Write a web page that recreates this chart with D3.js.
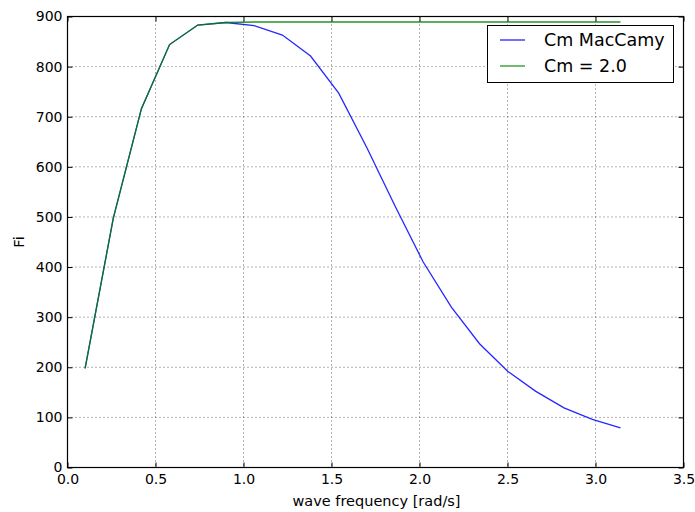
<!DOCTYPE html>
<html>
<head>
<meta charset="utf-8">
<script src="https://cdn.jsdelivr.net/npm/d3@7"></script>
<style>
  html, body { margin: 0; padding: 0; background: #fff; }
  svg { display: block; font-family: "DejaVu Sans", sans-serif; }
</style>
</head>
<body>
<svg id="chart" width="695" height="512"></svg>
<script>
// Wave frequencies (rad/s)
const omega = [0.100, 0.260, 0.420, 0.580, 0.740, 0.900, 1.060, 1.221, 1.381, 1.541,
               1.701, 1.861, 2.021, 2.181, 2.341, 2.501, 2.661, 2.821, 2.982, 3.142];
// Inertia force with MacCamy-Fuchs coefficient
const fiMacCamy = [198, 497, 716, 844, 883, 888, 882, 863, 821, 747,
                   638, 522, 410, 320, 247, 192, 152, 119, 96, 79];
// Inertia force with constant Cm = 2.0
const fiCm2 = [198, 497, 716, 844, 883, 888, 889, 889, 889, 889,
               889, 889, 889, 889, 889, 889, 889, 889, 889, 889];
const xTicks = [0.0, 0.5, 1.0, 1.5, 2.0, 2.5, 3.0, 3.5];
const yTicks = [0, 100, 200, 300, 400, 500, 600, 700, 800, 900];
const seriesNames = ["Cm MacCamy", "Cm = 2.0"];
const seriesColors = ["#0000ff", "#008000"];

const svg = d3.select("#chart");
const m = { left: 67.5, top: 16.5, right: 683.5, bottom: 467.5 };

const x = d3.scaleLinear().domain([0, 3.5]).range([m.left, m.right]);
const y = d3.scaleLinear().domain([0, 900]).range([m.bottom, m.top]);

// Grid lines
const grid = svg.append("g");
grid.selectAll(".gx").data(xTicks.slice(1, -1)).join("line")
  .attr("x1", d => x(d)).attr("x2", d => x(d))
  .attr("y1", m.top).attr("y2", m.bottom)
  .attr("stroke", "#000").attr("stroke-width", 0.6).attr("stroke-dasharray", "1,3");
grid.selectAll(".gy").data(yTicks.slice(1, -1)).join("line")
  .attr("y1", d => y(d)).attr("y2", d => y(d))
  .attr("x1", m.left).attr("x2", m.right)
  .attr("stroke", "#000").attr("stroke-width", 0.6).attr("stroke-dasharray", "1,3");

// Data lines
const line = d3.line().x((d, i) => x(omega[i])).y(d => y(d));
[fiMacCamy, fiCm2].forEach((vals, k) => {
  svg.append("path").datum(vals)
    .attr("fill", "none")
    .attr("stroke", seriesColors[k])
    .attr("stroke-width", 1.3)
    .attr("opacity", 0.85)
    .attr("d", line);
});

// Axes (ticks inside, on all four sides)
const fmtX = d3.format(".1f");
svg.append("g").attr("transform", `translate(0,${m.bottom})`)
  .call(d3.axisBottom(x).tickValues(xTicks).tickFormat(fmtX).tickSizeInner(-5).tickSizeOuter(0).tickPadding(7));
svg.append("g").attr("transform", `translate(0,${m.top})`)
  .call(d3.axisTop(x).tickValues(xTicks).tickFormat("").tickSizeInner(-5).tickSizeOuter(0));
svg.append("g").attr("transform", `translate(${m.left},0)`)
  .call(d3.axisLeft(y).tickValues(yTicks).tickSizeInner(-5).tickSizeOuter(0).tickPadding(5));
svg.append("g").attr("transform", `translate(${m.right},0)`)
  .call(d3.axisRight(y).tickValues(yTicks).tickFormat("").tickSizeInner(-5).tickSizeOuter(0));

svg.selectAll(".domain").remove();
svg.selectAll(".tick line").attr("stroke", "#000").attr("stroke-width", 1);
svg.selectAll(".tick text").attr("font-size", 14).attr("fill", "#000")
  .attr("font-family", "DejaVu Sans, sans-serif");

// Frame
svg.append("rect")
  .attr("x", m.left).attr("y", m.top)
  .attr("width", m.right - m.left).attr("height", m.bottom - m.top)
  .attr("fill", "none").attr("stroke", "#000").attr("stroke-width", 1.2);

// Axis labels
svg.append("text").attr("x", (m.left + m.right) / 2 + 1).attr("y", 506)
  .attr("text-anchor", "middle").attr("font-size", 14.5).text("wave frequency [rad/s]");
svg.append("text").attr("transform", `translate(24,${(m.top + m.bottom) / 2}) rotate(-90)`)
  .attr("text-anchor", "middle").attr("font-size", 14.5).text("Fi");

// Legend
const lg = svg.append("g");
lg.append("rect").attr("x", 487.5).attr("y", 25.5).attr("width", 186).attr("height", 57)
  .attr("fill", "#fff").attr("stroke", "#000").attr("stroke-width", 1);
seriesNames.forEach((name, k) => {
  const yy = 40 + k * 26;
  lg.append("line").attr("x1", 500).attr("x2", 525).attr("y1", yy).attr("y2", yy)
    .attr("stroke", seriesColors[k]).attr("stroke-width", 1.3).attr("opacity", 0.85);
  lg.append("text").attr("x", 544).attr("y", yy + 6).attr("font-size", 17.5).text(name);
});
</script>
</body>
</html>
